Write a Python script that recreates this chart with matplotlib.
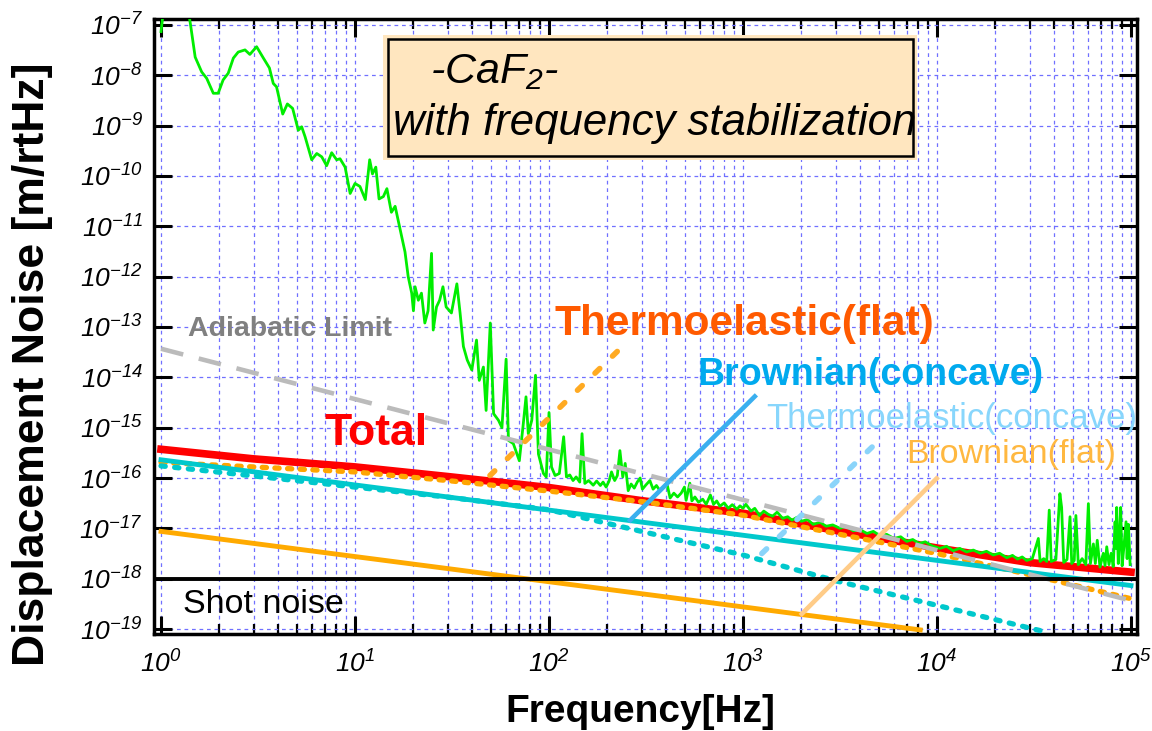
import numpy as np
import matplotlib.pyplot as plt
from matplotlib.patches import Rectangle
from matplotlib.ticker import LogLocator, FuncFormatter, NullLocator

plt.rcParams['font.family'] = ['Liberation Sans', 'DejaVu Sans']
plt.rcParams['mathtext.fontset'] = 'custom'
plt.rcParams['mathtext.rm'] = 'Liberation Sans:italic'
plt.rcParams['mathtext.it'] = 'Liberation Sans:italic'
plt.rcParams['mathtext.bf'] = 'Liberation Sans:bold'

# measured displacement spectrum (Hz, m/rtHz)
freq_meas = [1.00, 1.03, 1.38, 1.42, 1.50, 1.62, 1.72, 1.86, 1.97, 2.09, 2.22, 2.36, 2.50, 2.71,
             2.87, 3.11, 3.37, 3.62, 3.79, 3.94, 4.24, 4.48, 4.77, 5.10, 5.31, 5.53, 5.98, 6.35,
             6.74, 7.14, 7.58, 8.04, 8.37, 8.89, 9.44, 10.0, 10.6, 11.3, 11.9, 12.3, 12.8, 13.3,
             14.0, 14.6, 15.4, 16.1, 16.7, 17.4, 18.1, 18.8, 19.6, 20.0, 20.4, 21.2, 22.0, 22.9,
             23.8, 24.8, 25.3, 26.3, 27.3, 28.4, 29.5, 31.4, 33.5, 34.8, 36.2, 37.9, 40.0, 42.3,
             43.7, 45.9, 47.4, 49.8, 51.8, 54.9, 57.2, 60.1, 61.8, 65.5, 70.3, 73.7, 76.1, 78.2,
             81.5, 85.2, 88.2, 93.6, 96.8,
             100, 103, 107.5, 113, 119, 123, 128, 133, 138, 144, 148, 153, 160, 169, 176, 184,
             190, 197, 204, 210, 218, 225, 232, 240, 247,
             256, 265, 275, 285, 295, 303, 315, 331, 344, 358, 373, 390, 405, 421, 440, 460, 480,
             499, 509, 532, 545, 565, 590, 620, 646, 679, 705, 732, 760, 800, 840, 880, 930, 965,
             1000, 1035, 1100, 1150, 1216, 1280, 1350, 1420, 1500, 1600, 1700, 1789, 1900, 2000,
             2150, 2300, 2500, 2680, 2900, 3162, 3400, 3700, 4000, 4350, 4700, 5100, 5500, 6000,
             6500, 6980, 7500, 8100, 8700, 9400, 10360, 11200, 12100, 13100, 14200, 15400, 16700,
             18000, 19500, 21000, 22900, 24500, 26000, 27500, 29000, 31000, 33300, 34000, 35500,
             36800, 37900, 38800, 41000, 43000, 43900, 45000, 46800, 48500, 49500, 51000, 52000,
             53500, 56000, 58500, 60300, 61800, 64000, 65500, 67000, 69200, 72000, 73500, 75000,
             77000, 79000, 81000, 82800, 83600, 84400, 86000, 87000, 88500, 90000, 91800, 94300,
             95500, 97000, 99000]
noise_meas = [7.4e-8, 2.0e-7, 2.0e-7, 1.0e-7, 2.3e-8, 1.17e-8, 8.7e-9, 4.4e-9, 4.4e-9, 8.1e-9,
              1.1e-8, 2.2e-8, 2.9e-8, 3.2e-8, 2.6e-8, 3.7e-8, 2.2e-8, 1.4e-8, 6.9e-9, 5.9e-9,
              1.7e-9, 2.7e-9, 2.2e-9, 8.1e-10, 9.5e-10, 6.0e-10, 2.1e-10, 2.8e-10, 2.4e-10,
              1.6e-10, 2.9e-10, 2.1e-10, 2.2e-10, 1.5e-10, 4.5e-11, 7.1e-11, 6.2e-11, 3.4e-11,
              2.1e-10, 1.1e-10, 1.5e-10, 3.5e-11, 3.9e-11, 5.6e-11, 1.9e-11, 2.5e-11, 1.3e-11,
              6.2e-12, 3.1e-12, 1.0e-12, 4.7e-13, 2.1e-13, 6.3e-13, 3.4e-13, 4.7e-13, 1.2e-13,
              2.1e-13, 2.9e-12, 8.7e-14, 2.5e-13, 3.4e-13, 6.3e-13, 2.5e-13, 1.9e-13, 7.2e-13,
              1.9e-13, 4.1e-14, 2.2e-14, 1.4e-14, 5.5e-14, 8.7e-15, 1.6e-14, 2.2e-15, 1.2e-13,
              1.9e-15, 1.4e-15, 1.0e-15, 2.3e-14, 5.6e-16, 4.8e-16, 2.2e-16, 1.2e-15, 4.1e-15,
              7.6e-16, 1.4e-15, 1.1e-14, 3.0e-16, 1.23e-16, 1.05e-16,
              2.0e-15, 1.66e-16, 1.12e-16, 1.23e-16, 6.6e-16, 1.05e-16, 1.15e-16, 8.9e-17,
              1.05e-16, 8.3e-17, 7.6e-16, 7.8e-17, 8.9e-17, 7.2e-17, 8.7e-17, 7.1e-17, 8.3e-17,
              6.6e-17, 8.7e-17, 1.32e-16, 8.9e-17, 1.12e-16, 3.5e-16, 1.05e-16, 1.95e-16,
              5.6e-17, 7.6e-17, 6.3e-17, 8.3e-17, 1.0e-16, 6.0e-17, 7.2e-17, 8.9e-17, 6.0e-17,
              7.1e-17, 5.6e-17, 6.6e-17, 7.9e-17, 4.0e-17, 5.0e-17, 4.2e-17, 5.0e-17, 6.6e-17,
              3.6e-17, 7.9e-17, 3.5e-17, 4.2e-17, 3.3e-17, 3.8e-17, 3.0e-17, 4.6e-17, 3.0e-17,
              3.5e-17, 2.75e-17, 3.2e-17, 2.5e-17, 2.95e-17, 2.4e-17, 2.8e-17,
              2.5e-17, 3.0e-17, 2.2e-17, 2.5e-17, 1.8e-17, 2.2e-17, 1.9e-17, 1.74e-17, 2.1e-17,
              1.58e-17, 1.7e-17, 1.45e-17, 1.66e-17, 1.38e-17, 1.5e-17, 1.2e-17, 1.32e-17,
              1.1e-17, 1.17e-17, 1.0e-17, 1.1e-17, 8.9e-18, 9.5e-18, 7.9e-18, 8.7e-18, 7.1e-18,
              7.6e-18, 6.3e-18, 6.8e-18, 5.5e-18, 6.0e-18, 5.0e-18, 5.4e-18, 4.5e-18, 4.0e-18,
              4.4e-18, 3.6e-18, 4.0e-18, 3.4e-18, 3.7e-18, 3.2e-18, 3.5e-18, 2.95e-18, 3.2e-18,
              2.6e-18, 2.9e-18, 2.45e-18, 2.7e-18, 2.3e-18, 2.5e-18, 6.3e-18, 2.2e-18, 2.5e-18,
              2.2e-18, 2.3e-17, 2.2e-18, 2.4e-18, 4.9e-17, 2.6e-17, 2.1e-18, 2.4e-18, 1.7e-17,
              2.0e-18, 2.3e-18, 1.8e-17, 1.9e-18, 2.5e-18, 1.9e-18, 3.1e-17, 2.0e-18, 4.9e-18,
              2.0e-18, 5.8e-18, 1.7e-18, 3.2e-18, 1.8e-18, 4.3e-18, 1.9e-18, 3.2e-18, 1.74e-18,
              1.35e-17, 4.0e-18, 2.6e-17, 2.0e-18, 4.9e-18, 2.6e-17, 1.8e-18, 4.0e-18, 1.35e-17,
              2.5e-18, 1.2e-17, 1.9e-18]

# noise budget curves
freq_model = [1, 3, 10, 30, 100, 300, 1e3, 3e3, 1e4, 3e4, 1e5]
total = [3.72e-16, 2.40e-16, 1.66e-16, 1.07e-16, 6.46e-17, 3.55e-17, 2.0e-17, 9.1e-18,
         4.07e-18, 2.09e-18, 1.35e-18]
te_flat = [2.04e-16, 1.66e-16, 1.32e-16, 8.9e-17, 5.5e-17, 3.4e-17, 1.82e-17, 7.9e-18,
           3.16e-18, 1.2e-18, 4.0e-19]
freq_te_concave = [1, 3, 10, 30, 100, 300, 1e3, 3e3, 1e4, 3.4e4]
te_concave = [1.74e-16, 1.10e-16, 6.6e-17, 4.17e-17, 2.34e-17, 8.7e-18, 2.95e-18, 9.1e-19,
              2.95e-19, 9.3e-20]
freq_br_concave = [1, 1e5]
br_concave = [2.3e-16, 7.3e-19]
freq_br_flat = [1, 8200]
br_flat = [8.7e-18, 9.6e-20]
freq_adiabatic = [1, 9.4e4]
adiabatic = [3.7e-14, 3.9e-19]
shot_noise = 1e-18

# leader lines from labels to curves
lead_te_flat = ([49.6, 237], [1.12e-16, 3.98e-14])
lead_br_concave = ([262, 1150], [1.45e-17, 4.17e-15])
lead_te_concave = ([1250, 4730], [3.16e-18, 4.47e-16])
lead_br_flat = ([2010, 9960], [2.0e-19, 9.8e-17])

fig = plt.figure(figsize=(11.52, 7.31), dpi=100)
ax = fig.add_axes([154 / 1152, 1 - 634 / 731, 983 / 1152, 615 / 731])
ax.set_xscale('log')
ax.set_yscale('log')
ax.set_xlim(0.920, 1.074e5)
ax.set_ylim(7.96e-20, 1.315e-7)

ax.xaxis.set_major_locator(LogLocator(base=10, numticks=20))
ax.xaxis.set_minor_locator(LogLocator(base=10, subs=range(2, 10), numticks=20))
ax.yaxis.set_major_locator(LogLocator(base=10, numticks=30))
ax.yaxis.set_minor_locator(NullLocator())
dec = FuncFormatter(lambda v, p: r'$10^{%d}$' % round(np.log10(v)))
ax.xaxis.set_major_formatter(dec)
ax.yaxis.set_major_formatter(dec)

ax.tick_params(which='major', direction='in', length=13, width=2.2,
               top=True, right=True, labelsize=19)
ax.tick_params(which='minor', direction='in', length=7, width=1.6, top=True, right=True)
ax.tick_params(axis='x', which='major', pad=12)
ax.tick_params(axis='y', which='major', pad=8)
for s in ax.spines.values():
    s.set_linewidth(2.5)

ax.set_axisbelow(True)
gridkw = dict(color='#7070ff', lw=0.9, ls=(0, (3, 3)))
ax.grid(which='major', **gridkw)
ax.grid(which='minor', axis='x', **gridkw)

ax.plot(freq_model, total, color='#ff0000', lw=5.5, zorder=3)
ax.plot(freq_model, te_flat, color='#ffa500', lw=3.8, ls=(0, (0.8, 1.6)),
        dash_capstyle='round', zorder=4)
ax.plot(freq_br_concave, br_concave, color='#00c8cc', lw=3.5, zorder=4)
ax.plot(freq_te_concave, te_concave, color='#00c8cc', lw=3.8, ls=(0, (0.8, 1.8)),
        dash_capstyle='round', zorder=4)
ax.plot(freq_br_flat, br_flat, color='#ffaa00', lw=3.5, zorder=4)
ax.plot(freq_meas, noise_meas, color='#00ee00', lw=2.0, zorder=5)
ax.plot(freq_adiabatic, adiabatic, color='#bbbbbb', lw=3.3, ls=(0, (5, 3.5)), zorder=6)
ax.axhline(shot_noise, color='black', lw=2.8, zorder=6)

ax.plot(*lead_te_flat, color='#ffaa22', lw=4, ls=(0, (1.2, 3.2)),
        dash_capstyle='round', zorder=6)
ax.plot(*lead_br_concave, color='#3aafef', lw=3.3, zorder=6)
ax.plot(*lead_te_concave, color='#8ad4fa', lw=4, ls=(0, (1.2, 3.2)),
        dash_capstyle='round', zorder=6)
ax.plot(*lead_br_flat, color='#ffcc88', lw=3.3, zorder=6)

ax.text(1.38, 6.6e-14, 'Adiabatic Limit', color='#808080', fontsize=20.5,
        fontweight='bold', zorder=8)
ax.text(107, 6.9e-14, 'Thermoelastic(flat)', color='#ff5a00', fontsize=30.5,
        fontweight='bold', zorder=8)
ax.text(586, 6.9e-15, 'Brownian(concave)', color='#00aaee', fontsize=27,
        fontweight='bold', zorder=8)
ax.text(1325, 9.8e-16, 'Thermoelastic(concave)', color='#88d6fc', fontsize=25, zorder=8)
ax.text(6980, 1.95e-16, 'Brownian(flat)', color='#ffb840', fontsize=24.5, zorder=8)
ax.text(7.0, 4.5e-16, 'Total', color='#ff0000', fontsize=32, fontweight='bold', zorder=8)
ax.text(1.30, 2.04e-19, 'Shot noise', color='black', fontsize=24.5, zorder=8)

# title box
fig.add_artist(Rectangle((383 / 1152, 1 - 160 / 731), 534 / 1152, 125 / 731,
                         transform=fig.transFigure, facecolor='#ffe6bf', edgecolor='none',
                         zorder=1))
fig.add_artist(Rectangle((388 / 1152, 1 - 156 / 731), 525 / 1152, 117 / 731,
                         transform=fig.transFigure, facecolor='none', edgecolor='black',
                         lw=1.8, zorder=2))
fig.text(430 / 1152, 1 - 83 / 731, '-CaF$_2$-', fontsize=31, style='italic',
         va='baseline', zorder=3)
fig.text(393 / 1152, 1 - 135 / 731, 'with frequency stabilization', fontsize=31.5,
         style='italic', va='baseline', zorder=3)

fig.text(640 / 1152, 1 - 722 / 731, 'Frequency[Hz]', ha='center', va='baseline',
         fontsize=28, fontweight='bold')
fig.text(33 / 1152, 1 - 364 / 731, 'Displacement Noise [m/rtHz]', rotation=90,
         ha='center', va='center', fontsize=32, fontweight='bold')

fig.savefig('out.png', dpi=100)
